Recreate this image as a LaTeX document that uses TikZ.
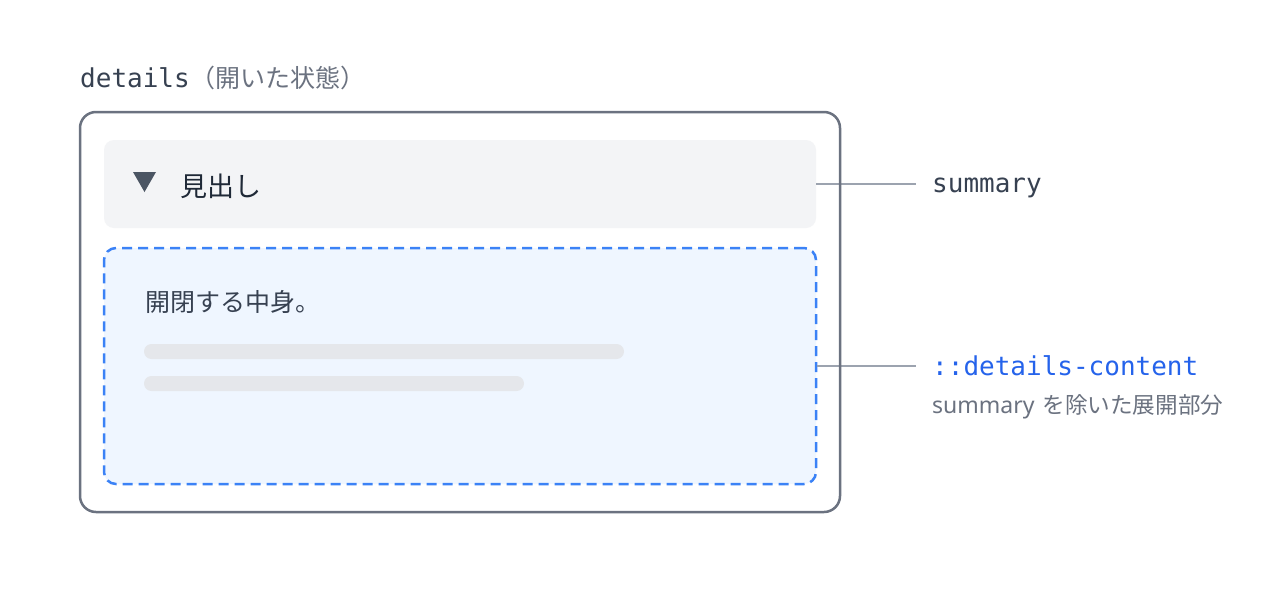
\documentclass[tikz,border=0pt]{standalone}
\usepackage{fontspec}
\setmainfont{Noto Sans CJK JP}
\newfontfamily\monofont{DejaVu Sans Mono}
\newfontfamily\jpfont{Noto Sans CJK JP}
\newfontfamily\latinfont{Noto Sans}
\definecolor{outerc}{HTML}{6B7280}
\definecolor{sumfill}{HTML}{F3F4F6}
\definecolor{contfill}{HTML}{EFF6FF}
\definecolor{contdraw}{HTML}{3B82F6}
\definecolor{textdark}{HTML}{1F2937}
\definecolor{textmid}{HTML}{374151}
\definecolor{textgray}{HTML}{6B7280}
\definecolor{leadc}{HTML}{9CA3AF}
\definecolor{barc}{HTML}{E5E7EB}
\definecolor{tric}{HTML}{4B5563}
\definecolor{bluetext}{HTML}{2563EB}
\tikzset{
  outerbox/.style={draw=outerc, line width=2.5pt, rounded corners=16pt, rectangle, inner sep=0pt},
  sumbox/.style={fill=sumfill, rounded corners=10pt, rectangle, inner sep=0pt},
  contbox/.style={fill=contfill, draw=contdraw, line width=2.5pt, dash pattern=on 10pt off 6pt, rounded corners=12pt, rectangle, inner sep=0pt},
  leader/.style={draw=leadc, line width=2pt},
  bar/.style={fill=barc, rounded corners=7.5pt},
  lbl/.style={anchor=west, inner sep=0pt},
}
\begin{document}
\begin{tikzpicture}[x=1pt,y=-1pt]
\useasboundingbox[fill=white] (0,0) rectangle (1280,600);
% title
\node[lbl, text=textmid, font=\monofont\fontsize{26}{30}\selectfont] (title) at (80,78) {details};
\node[lbl, text=textgray, font=\jpfont\fontsize{25}{30}\selectfont] (titlenote) at (title.east) {（開いた状態）};
% inner boxes
\node[sumbox, minimum width=712pt, minimum height=88pt] (summary) at (460,184) {};
\node[contbox, minimum width=712pt, minimum height=236pt] (content) at (460,366) {};
% triangle marker
\fill[tric] (133,172) -- (156,172) -- (144.5,192) -- cycle;
\node[lbl, text=textdark, font=\jpfont\fontsize{27}{32}\selectfont] (heading) at (180,186) {見出し};
% content text
\node[lbl, text=textmid, font=\jpfont\fontsize{25}{30}\selectfont] (body) at (145,302) {開閉する中身。};
\fill[bar] (144,344) rectangle (624,359);
\fill[bar] (144,376) rectangle (524,391);
% leaders
\coordinate (sumend) at (916,184);
\coordinate (contend) at (916,366);
\draw[leader] (summary.east) -- (sumend);
\draw[leader] (content.east) -- (contend);
% outer box
\node[outerbox, minimum width=760pt, minimum height=400pt] (details) at (460,312) {};
% labels
\node[anchor=base west, inner sep=0pt, text=textmid, font=\monofont\fontsize{26}{30}\selectfont] (sumlbl) at (932,192) {summary};
\node[lbl, text=bluetext, font=\monofont\fontsize{26}{30}\selectfont] (contlbl) at (932,366) {::details-content};
\node[lbl, text=textgray, font=\jpfont\fontsize{22.6}{26}\selectfont] (contnote) at (932,407) {{\latinfont\fontsize{23}{26}\selectfont summary}\hspace{8pt}を除いた展開部分};
\end{tikzpicture}
\end{document}
